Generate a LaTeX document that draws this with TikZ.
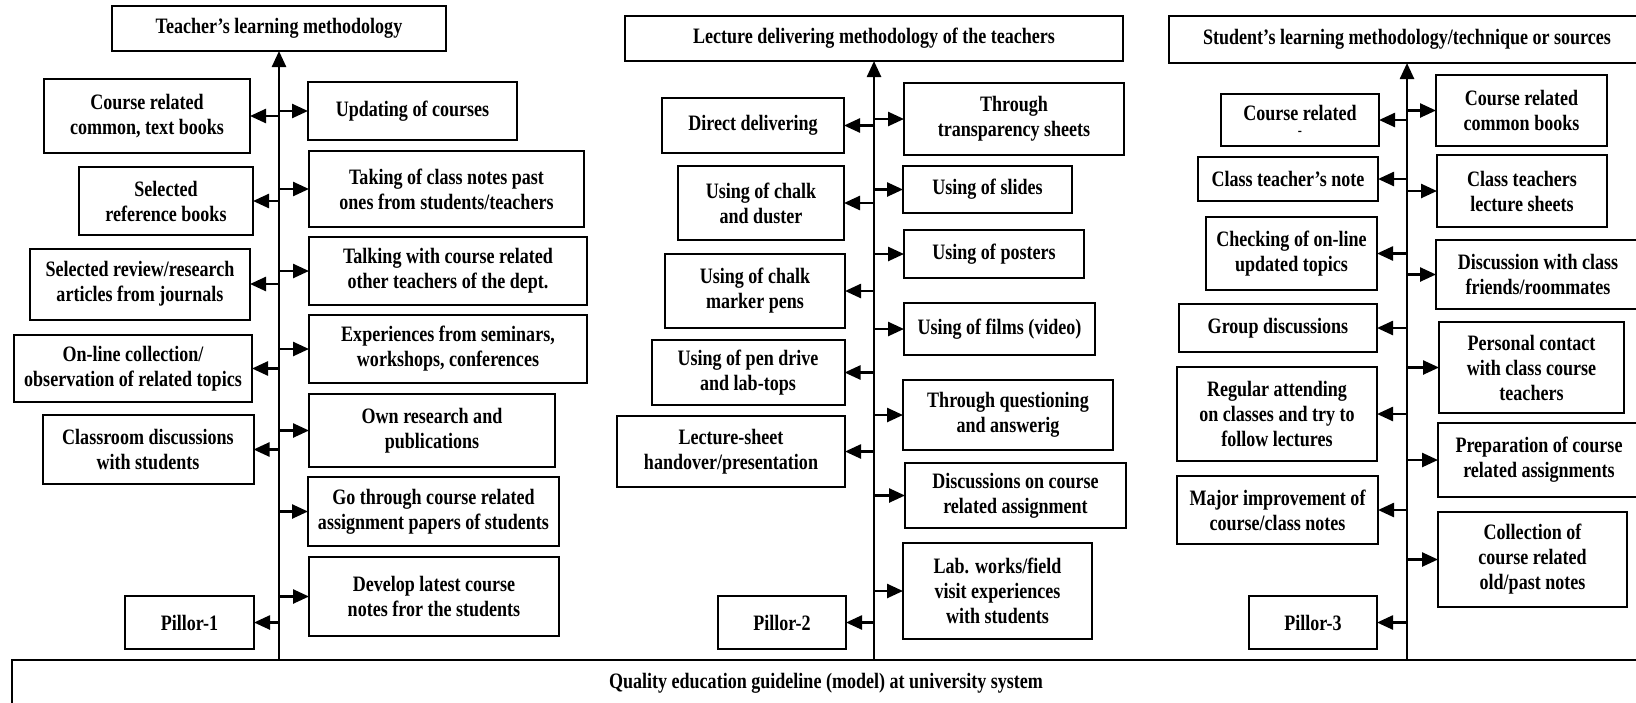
\documentclass[tikz,border=0pt]{standalone}
\usepackage{fontspec}
\setmainfont{Liberation Serif}[FakeStretch=0.82]
\usetikzlibrary{arrows.meta}

\begin{document}
\begin{tikzpicture}[
    x=1pt, y=-1pt,
    box/.style={rectangle, draw, line width=2pt, align=center, inner sep=1pt, outer sep=0pt, font=\fontsize{22}{25}\selectfont\bfseries},
    arrow/.style={-{Triangle[length=16pt, width=14pt]}, line width=2.5pt}
]
    \clip (0,0) rectangle (1636,702);

    % Base
    \node[box, minimum width=1628pt, minimum height=46pt] (qeg) at (826,683) {Quality education guideline (model) at university system};

    % Pillar 1
    \node[box, minimum width=334pt, minimum height=45pt] (teach) at (279,28.5) {Teacher’s learning methodology};
    \node[box, minimum width=206pt, minimum height=74pt] (tl1) at (147,116) {Course related\\common, text books};
    \node[box, minimum width=174pt, minimum height=68pt] (tl2) at (166,201) {Selected\\reference books};
    \node[box, minimum width=220pt, minimum height=71pt] (tl3) at (140,284) {Selected review/research\\articles from journals};
    \node[box, minimum width=238pt, minimum height=67pt] (tl4) at (133,368.5) {On-line collection/\\observation of related topics};
    \node[box, minimum width=211pt, minimum height=69pt] (tl5) at (148,449.5) {Classroom discussions\\with students};
    \node[box, minimum width=129pt, minimum height=53pt] (tl6) at (189.5,622.5) {Pillor-1};
    \node[box, minimum width=209pt, minimum height=58pt] (tr1) at (412.5,111) {Updating of courses};
    \node[box, minimum width=275pt, minimum height=76pt] (tr2) at (446.5,189) {Taking of class notes past\\ones from students/teachers};
    \node[box, minimum width=278pt, minimum height=68pt] (tr3) at (448,271) {Talking with course related\\other teachers of the dept.};
    \node[box, minimum width=278pt, minimum height=68pt] (tr4) at (448,349) {Experiences from seminars,\\workshops, conferences};
    \node[box, minimum width=246pt, minimum height=73pt] (tr5) at (432,430.5) {Own research and\\publications};
    \node[box, minimum width=251pt, minimum height=69pt] (tr6) at (433.5,511.5) {Go through course related\\assignment papers of students};
    \node[box, minimum width=250pt, minimum height=79pt] (tr7) at (434,596.5) {Develop latest course\\notes fror the students};

    % Pillar 2
    \node[box, minimum width=498pt, minimum height=45pt] (lect) at (874,38.5) {Lecture delivering methodology of the teachers};
    \node[box, minimum width=182pt, minimum height=55pt] (ll1) at (753,125.5) {Direct delivering};
    \node[box, minimum width=166pt, minimum height=74pt] (ll2) at (761,203) {Using of chalk\\and duster};
    \node[box, minimum width=180pt, minimum height=74pt] (ll3) at (755,291) {Using of chalk\\marker pens};
    \node[box, minimum width=193pt, minimum height=65pt] (ll4) at (748,372.5) {Using of pen drive\\and lab-tops};
    \node[box, minimum width=228pt, minimum height=71pt] (ll5) at (731,451.5) {Lecture-sheet\\handover/presentation};
    \node[box, minimum width=128pt, minimum height=53pt] (ll6) at (782,622.5) {Pillor-2};
    \node[box, minimum width=220pt, minimum height=72pt] (lr1) at (1014,119) {Through\\transparency sheets};
    \node[box, minimum width=169pt, minimum height=47pt] (lr2) at (987.5,189.5) {Using of slides};
    \node[box, minimum width=180pt, minimum height=48pt] (lr3) at (994,254) {Using of posters};
    \node[box, minimum width=191pt, minimum height=52pt] (lr4) at (999.5,329) {Using of films (video)};
    \node[box, minimum width=210pt, minimum height=70pt] (lr5) at (1008,415) {Through questioning\\and answerig};
    \node[box, minimum width=221pt, minimum height=65pt] (lr6) at (1015.5,495.5) {Discussions on course\\related assignment};
    \node[box, minimum width=189pt, minimum height=96pt] (lr7) at (997.5,591) {Lab. works/field\\visit experiences\\with students};

    % Pillar 3
    \node[box, minimum width=476pt, minimum height=47pt] (stud) at (1407,39.5) {Student’s learning methodology/technique or sources};
    \node[box, minimum width=158pt, minimum height=52pt] (sl1) at (1300,120) {Course related\\[-10pt]{\fontsize{15}{15}\selectfont -}};
    \node[box, minimum width=180pt, minimum height=44pt] (sl2) at (1288,179) {Class teacher’s note};
    \node[box, minimum width=171pt, minimum height=73pt] (sl3) at (1291.5,253.5) {Checking of on-line\\updated topics};
    \node[box, minimum width=198pt, minimum height=48pt] (sl4) at (1278,328) {Group discussions};
    \node[box, minimum width=200pt, minimum height=94pt] (sl5) at (1277,414) {Regular attending\\on classes and try to\\follow lectures};
    \node[box, minimum width=201pt, minimum height=68pt] (sl6) at (1277.5,510) {Major improvement of\\course/class notes};
    \node[box, minimum width=128pt, minimum height=53pt] (sl7) at (1313,622.5) {Pillor-3};
    \node[box, minimum width=171pt, minimum height=71pt] (sr1) at (1521.5,110.5) {Course related\\common books};
    \node[box, minimum width=170pt, minimum height=72pt] (sr2) at (1522,191) {Class teachers\\lecture sheets};
    \node[box, minimum width=204pt, minimum height=69pt] (sr3) at (1538,274.5) {Discussion with class\\friends/roommates};
    \node[box, minimum width=185pt, minimum height=91pt] (sr4) at (1531.5,367.5) {Personal contact\\with class course\\teachers};
    \node[box, minimum width=202pt, minimum height=74pt] (sr5) at (1539,460) {Preparation of course\\related assignments};
    \node[box, minimum width=189pt, minimum height=95pt] (sr6) at (1532.5,559.5) {Collection of\\course related\\old/past notes};

    % Trunks
    \draw[arrow] (teach |- qeg.north) -- (teach.south);
    \draw[arrow] (lect |- qeg.north) -- (lect.south);
    \draw[arrow] (stud |- qeg.north) -- (stud.south);

    % Branches, pillar 1
    \draw[arrow] (tl1.east -| teach) -- (tl1.east);
    \draw[arrow] (tl2.east -| teach) -- (tl2.east);
    \draw[arrow] (tl3.east -| teach) -- (tl3.east);
    \draw[arrow] (tl4.east -| teach) -- (tl4.east);
    \draw[arrow] (tl5.east -| teach) -- (tl5.east);
    \draw[arrow] (tl6.east -| teach) -- (tl6.east);
    \draw[arrow] (tr1.west -| teach) -- (tr1.west);
    \draw[arrow] (tr2.west -| teach) -- (tr2.west);
    \draw[arrow] (tr3.west -| teach) -- (tr3.west);
    \draw[arrow] (tr4.west -| teach) -- (tr4.west);
    \draw[arrow] (tr5.west -| teach) -- (tr5.west);
    \draw[arrow] (tr6.west -| teach) -- (tr6.west);
    \draw[arrow] (tr7.west -| teach) -- (tr7.west);

    % Branches, pillar 2
    \draw[arrow] (ll1.east -| lect) -- (ll1.east);
    \draw[arrow] (ll2.east -| lect) -- (ll2.east);
    \draw[arrow] (ll3.east -| lect) -- (ll3.east);
    \draw[arrow] (ll4.east -| lect) -- (ll4.east);
    \draw[arrow] (ll5.east -| lect) -- (ll5.east);
    \draw[arrow] (ll6.east -| lect) -- (ll6.east);
    \draw[arrow] (lr1.west -| lect) -- (lr1.west);
    \draw[arrow] (lr2.west -| lect) -- (lr2.west);
    \draw[arrow] (lr3.west -| lect) -- (lr3.west);
    \draw[arrow] (lr4.west -| lect) -- (lr4.west);
    \draw[arrow] (lr5.west -| lect) -- (lr5.west);
    \draw[arrow] (lr6.west -| lect) -- (lr6.west);
    \draw[arrow] (lr7.west -| lect) -- (lr7.west);

    % Branches, pillar 3
    \draw[arrow] (sl1.east -| stud) -- (sl1.east);
    \draw[arrow] (sl2.east -| stud) -- (sl2.east);
    \draw[arrow] (sl3.east -| stud) -- (sl3.east);
    \draw[arrow] (sl4.east -| stud) -- (sl4.east);
    \draw[arrow] (sl5.east -| stud) -- (sl5.east);
    \draw[arrow] (sl6.east -| stud) -- (sl6.east);
    \draw[arrow] (sl7.east -| stud) -- (sl7.east);
    \draw[arrow] (sr1.west -| stud) -- (sr1.west);
    \draw[arrow] (sr2.west -| stud) -- (sr2.west);
    \draw[arrow] (sr3.west -| stud) -- (sr3.west);
    \draw[arrow] (sr4.west -| stud) -- (sr4.west);
    \draw[arrow] (sr5.west -| stud) -- (sr5.west);
    \draw[arrow] (sr6.west -| stud) -- (sr6.west);
\end{tikzpicture}
\end{document}
